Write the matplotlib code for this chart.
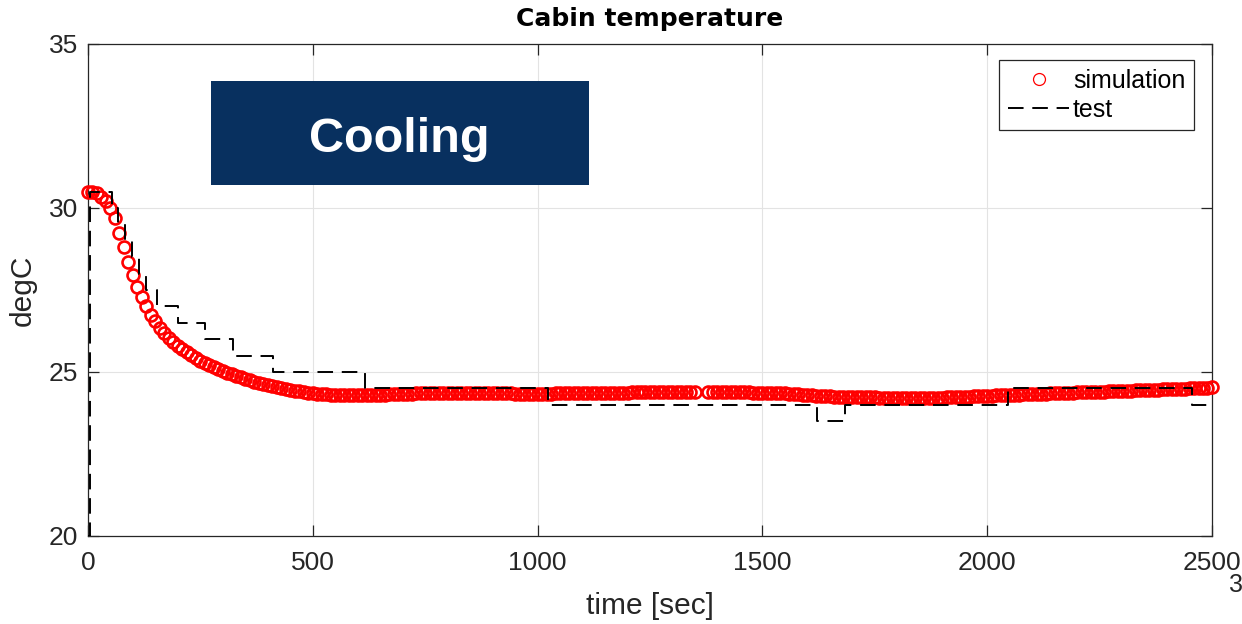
import numpy as np
import matplotlib.pyplot as plt
from matplotlib.patches import Rectangle

plt.rcParams['font.family'] = ['Liberation Sans', 'DejaVu Sans']

# test data (step changes)
test_t = [0, 5, 54, 67, 82, 97, 113, 130, 153, 201, 260, 323, 412, 616,
          1024, 1621, 1684, 2047, 2455, 2500]
test_v = [20, 30.5, 30.0, 29.5, 29.0, 28.5, 28.0, 27.5, 27.0, 26.5, 26.0,
          25.5, 25.0, 24.5, 24.0, 23.5, 24.0, 24.5, 24.0, 24.0]

# simulation samples, every 10 s from 0 to 2500
sim_t = np.arange(0, 2501, 10)
nan = np.nan
sim_v = [
    30.50, 30.50, 30.45, 30.35, 30.20, 30.00, 29.70, 29.25, 28.80, 28.35,
    27.95, 27.60, 27.30, 27.00, 26.75, 26.55, 26.35, 26.20, 26.05, 25.92,
    25.80, 25.70, 25.60, 25.51, 25.43, 25.35, 25.28, 25.21, 25.15, 25.09,
    25.03, 24.98, 24.93, 24.88, 24.84, 24.79, 24.75, 24.71, 24.67, 24.63,
    24.60, 24.56, 24.53, 24.50, 24.47, 24.45, 24.43, 24.41, 24.39, 24.37,
    24.35, 24.34, 24.33, 24.32, 24.31, 24.30, 24.30, 24.29, 24.29, 24.29,
    24.29, 24.29, 24.30, 24.30, 24.30, 24.31, 24.31, 24.32, 24.32, 24.33,
    24.33, 24.34, 24.34, 24.35, 24.35, 24.35, 24.36, 24.36, 24.36, 24.36,
    24.37, 24.37, 24.37, 24.37, 24.37, 24.37, 24.36, 24.36, 24.36, 24.36,
    24.36, 24.35, 24.35, 24.35, 24.35, 24.34, 24.34, 24.34, 24.34, 24.34,
    24.34, 24.34, 24.34, 24.34, 24.35, 24.35, 24.35, 24.35, 24.35, 24.36,
    24.36, 24.36, 24.36, 24.36, 24.37, 24.37, 24.37, 24.37, 24.37, 24.37,
    24.37, 24.38, 24.38, 24.38, 24.38, 24.38, 24.38, 24.38, 24.38, 24.38,
    24.38, 24.38, 24.38, 24.38, 24.38, 24.38, nan, nan, 24.38, 24.38,
    24.38, 24.38, 24.38, 24.38, 24.38, 24.38, 24.38, 24.38, 24.37, 24.37,
    24.37, 24.37, 24.36, 24.36, 24.35, 24.35, 24.34, 24.33, 24.32, 24.31,
    24.30, 24.29, 24.28, 24.27, 24.26, 24.26, 24.25, 24.25, 24.25, 24.24,
    24.24, 24.24, 24.24, 24.23, 24.23, 24.23, 24.22, 24.22, 24.22, 24.21,
    24.21, 24.21, 24.20, 24.20, 24.20, 24.21, 24.21, 24.21, 24.22, 24.22,
    24.22, 24.23, 24.23, 24.24, 24.24, 24.25, 24.25, 24.26, 24.26, 24.27,
    24.28, 24.28, 24.29, 24.29, 24.30, 24.30, 24.31, 24.31, 24.32, 24.32,
    24.33, 24.33, 24.34, 24.34, 24.35, 24.35, 24.36, 24.36, 24.37, 24.37,
    24.38, 24.38, 24.39, 24.39, 24.40, 24.40, 24.40, 24.41, 24.41, 24.42,
    24.42, 24.43, 24.43, 24.44, 24.44, 24.45, 24.45, 24.46, 24.46, 24.47,
    24.47, 24.48, 24.48, 24.49, 24.49, 24.50, 24.50, 24.51, 24.52, 24.52,
    24.53,
]

x_ticks = [0, 500, 1000, 1500, 2000, 2500]
y_ticks = [20, 25, 30, 35]

axis_col = '#262626'

fig = plt.figure(figsize=(12.42, 6.24), dpi=100)
ax = fig.add_axes([0.07085, 0.14103, 0.90499, 0.78846])

ax.plot(sim_t, sim_v, linestyle='none', marker='o', markersize=8.6,
        markerfacecolor='none', markeredgecolor='red', markeredgewidth=1.9,
        clip_on=False, label='simulation', zorder=3)
ax.plot(test_t, test_v, drawstyle='steps-post', color='black', linewidth=1.4,
        linestyle=(0, (8, 4.5)), label='test', zorder=4)

ax.set_xlim(0, 2500)
ax.set_ylim(20, 35)
ax.set_xticks(x_ticks)
ax.set_yticks(y_ticks)
ax.grid(True, color='#e3e3e3', linewidth=0.8)
ax.set_axisbelow(True)

for sp in ax.spines.values():
    sp.set_color(axis_col)
    sp.set_linewidth(0.9)
ax.tick_params(direction='in', length=8, width=0.9, top=True, right=True,
               labelsize=19, labelcolor=axis_col, color=axis_col)
ax.tick_params(axis='x', pad=11)
ax.tick_params(axis='y', pad=7)

ax.set_title('Cabin temperature', fontsize=18, fontweight='bold',
             family='DejaVu Sans', pad=13)
ax.set_xlabel('time [sec]', fontsize=21.5, color=axis_col)
ax.set_ylabel('degC', fontsize=21.5, color=axis_col)
ax.xaxis.set_label_coords(0.5, -0.113)
ax.yaxis.set_label_coords(-0.046, 0.5)

# "Cooling" banner
ax.add_patch(Rectangle((0.1094, 0.7134), 0.3363, 0.2114, transform=ax.transAxes,
                       facecolor='#08305F', edgecolor='none', zorder=5))
ax.text(0.2767, 0.781, 'Cooling', transform=ax.transAxes, ha='center',
        va='baseline', fontsize=35, fontweight='bold', color='white', zorder=6)

leg = ax.legend(loc='upper right', bbox_to_anchor=(0.984, 0.9675),
                borderaxespad=0, fontsize=18, fancybox=False, framealpha=1,
                edgecolor=axis_col, handlelength=2.45, handletextpad=0.15,
                borderpad=0.35, labelspacing=0.2)
leg.get_frame().set_linewidth(0.9)
leg.get_lines()[0].set_markeredgewidth(0.9)

# exponent label below the last x tick
fig.text(1229 / 1242, 1 - 592 / 624, '3', fontsize=18, color=axis_col,
         ha='left', va='baseline')

fig.savefig('out.png', dpi=100)
